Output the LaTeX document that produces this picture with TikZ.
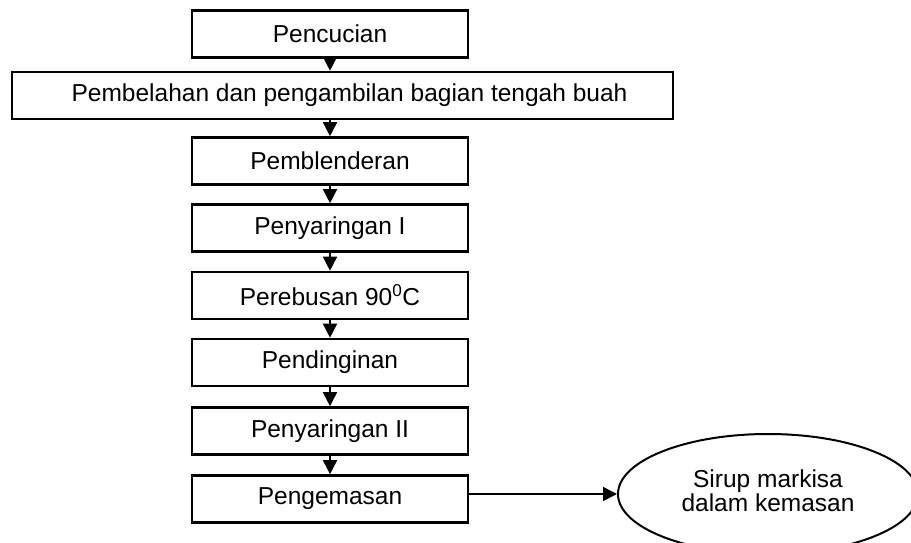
\documentclass[tikz,border=0pt]{standalone}
\usepackage{fontspec}
\setmainfont{Liberation Sans}
\usetikzlibrary{arrows.meta,shapes.geometric}
\begin{document}
\begin{tikzpicture}[x=1pt,y=-1pt,
  box/.style={draw=black,line width=2.6pt,minimum width=276pt,minimum height=47pt,inner sep=0pt,font=\fontsize{24.5}{28}\selectfont},
  flow/.style={line width=1.6pt,-{Triangle[width=14pt,length=14pt]}},
  endnode/.style={draw=black,line width=2pt,ellipse,minimum width=300pt,minimum height=120pt,inner sep=0pt,font=\fontsize{24.5}{26}\selectfont}]
\useasboundingbox (0,0) rectangle (911,543);
\node[box] (b1) at (330,34) {Pencucian};
\node[box,minimum width=661pt] (b2) at (342.5,95.5) {\hspace{14pt}Pembelahan dan pengambilan bagian tengah buah};
\node[box] (b3) at (330,161) {Pemblenderan};
\node[box] (b4) at (330,228) {Penyaringan I};
\node[box] (b5) at (330,295.5) {Perebusan 90\textsuperscript{0}C};
\node[box] (b6) at (330,362.5) {Pendinginan};
\node[box] (b7) at (330,431) {Penyaringan II};
\node[box] (b8) at (330,499) {Pengemasan};
\node[endnode] (e) at (768,494) {\raisebox{4pt}{\begin{tabular}{@{}c@{}}Sirup markisa\\[-2pt]dalam kemasan\end{tabular}}};
\draw[flow] (b1.south) -- (b1.south |- b2.north);
\draw[flow] (b1.south |- b2.south) -- (b3.north);
\draw[flow] (b3.south) -- (b4.north);
\draw[flow] (b4.south) -- (b5.north);
\draw[flow] (b5.south) -- (b6.north);
\draw[flow] (b6.south) -- (b7.north);
\draw[flow] (b7.south) -- (b8.north);
\draw[flow] (b8.east |- e.west) -- (e.west);
\end{tikzpicture}
\end{document}
